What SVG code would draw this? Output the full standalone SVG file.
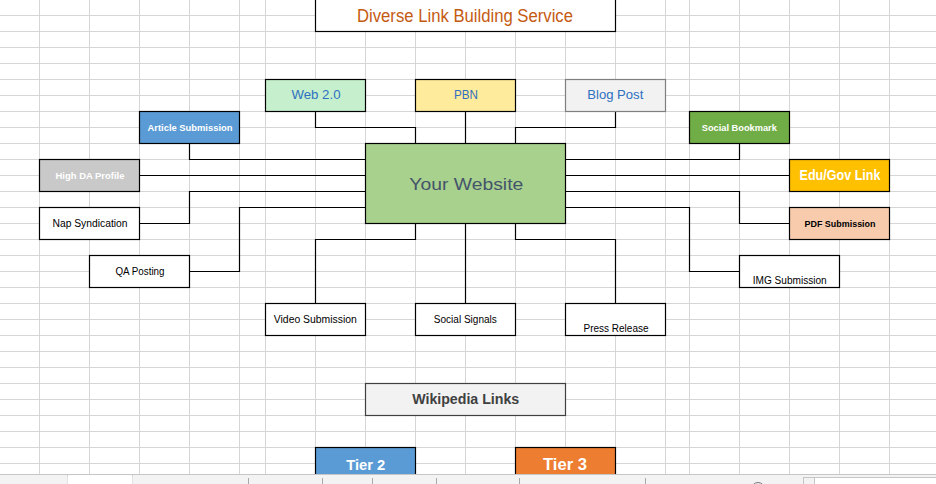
<svg xmlns="http://www.w3.org/2000/svg" width="936" height="484" viewBox="0 0 936 484">
<defs>
<style>
.grid line{stroke:#d6d6d6;stroke-width:1}
.conn path{fill:none;stroke:#000;stroke-width:1.2}
.box{stroke:#000;stroke-width:1.2}
text{font-family:"Liberation Sans",Arial,sans-serif;text-anchor:middle}
.blue{fill:#2e6fc0;font-size:13px}
.wb{fill:#fff;font-weight:bold;font-size:9.5px}
.blk{fill:#000;font-size:10px}
.tab line{stroke:#a8a8a8;stroke-width:1}
</style>
</defs>
<rect x="0" y="0" width="936" height="484" fill="#fff"/>
<g class="grid" id="grid">
<line x1="39.5" y1="0" x2="39.5" y2="484"/><line x1="89.5" y1="0" x2="89.5" y2="484"/><line x1="139.5" y1="0" x2="139.5" y2="484"/><line x1="189.5" y1="0" x2="189.5" y2="484"/><line x1="239.5" y1="0" x2="239.5" y2="484"/><line x1="265.5" y1="0" x2="265.5" y2="484"/><line x1="315.5" y1="0" x2="315.5" y2="484"/><line x1="365.5" y1="0" x2="365.5" y2="484"/><line x1="415.5" y1="0" x2="415.5" y2="484"/><line x1="465.5" y1="0" x2="465.5" y2="484"/><line x1="515.5" y1="0" x2="515.5" y2="484"/><line x1="565.5" y1="0" x2="565.5" y2="484"/><line x1="615.5" y1="0" x2="615.5" y2="484"/><line x1="665.5" y1="0" x2="665.5" y2="484"/><line x1="689.5" y1="0" x2="689.5" y2="484"/><line x1="739.5" y1="0" x2="739.5" y2="484"/><line x1="789.5" y1="0" x2="789.5" y2="484"/><line x1="839.5" y1="0" x2="839.5" y2="484"/><line x1="889.5" y1="0" x2="889.5" y2="484"/>
<line x1="0" y1="15.5" x2="936" y2="15.5"/><line x1="0" y1="31.5" x2="936" y2="31.5"/><line x1="0" y1="47.5" x2="936" y2="47.5"/><line x1="0" y1="63.5" x2="936" y2="63.5"/><line x1="0" y1="79.5" x2="936" y2="79.5"/><line x1="0" y1="95.5" x2="936" y2="95.5"/><line x1="0" y1="111.5" x2="936" y2="111.5"/><line x1="0" y1="127.5" x2="936" y2="127.5"/><line x1="0" y1="143.5" x2="936" y2="143.5"/><line x1="0" y1="159.5" x2="936" y2="159.5"/><line x1="0" y1="175.5" x2="936" y2="175.5"/><line x1="0" y1="191.5" x2="936" y2="191.5"/><line x1="0" y1="207.5" x2="936" y2="207.5"/><line x1="0" y1="223.5" x2="936" y2="223.5"/><line x1="0" y1="239.5" x2="936" y2="239.5"/><line x1="0" y1="255.5" x2="936" y2="255.5"/><line x1="0" y1="271.5" x2="936" y2="271.5"/><line x1="0" y1="287.5" x2="936" y2="287.5"/><line x1="0" y1="303.5" x2="936" y2="303.5"/><line x1="0" y1="319.5" x2="936" y2="319.5"/><line x1="0" y1="335.5" x2="936" y2="335.5"/><line x1="0" y1="351.5" x2="936" y2="351.5"/><line x1="0" y1="367.5" x2="936" y2="367.5"/><line x1="0" y1="383.5" x2="936" y2="383.5"/><line x1="0" y1="399.5" x2="936" y2="399.5"/><line x1="0" y1="415.5" x2="936" y2="415.5"/><line x1="0" y1="431.5" x2="936" y2="431.5"/><line x1="0" y1="447.5" x2="936" y2="447.5"/><line x1="0" y1="463.5" x2="936" y2="463.5"/>
</g>
<g class="conn" id="connectors">
<path d="M315.5,111.5 V127.5 H415.5 V143.5"/>
<path d="M465.5,111.5 V143.5"/>
<path d="M615.5,111.5 V127.5 H515.5 V143.5"/>
<path d="M189.5,143.5 V159.5 H365.5"/>
<path d="M139.5,175.5 H365.5"/>
<path d="M139.5,223.5 H189.5 V191.5 H365.5"/>
<path d="M189.5,271.5 H239.5 V207.5 H365.5"/>
<path d="M739.5,143.5 V159.5 H565.5"/>
<path d="M565.5,175.5 H789.5"/>
<path d="M565.5,191.5 H739.5 V223.5 H789.5"/>
<path d="M565.5,207.5 H689.5 V271.5 H739.5"/>
<path d="M415.5,223.5 V239.5 H315.5 V303.5"/>
<path d="M465.5,223.5 V303.5"/>
<path d="M515.5,223.5 V239.5 H615.5 V303.5"/>
</g>
<g id="title"><rect class="box" x="315.5" y="-1.5" width="300" height="33" fill="#fff"/><text x="465" y="22" font-size="17.5" fill="#c55a11" textLength="216" lengthAdjust="spacingAndGlyphs">Diverse Link Building Service</text></g>
<g id="web20"><rect class="box" x="265.5" y="79.5" width="100" height="32" fill="#c6efce"/><text class="blue" x="316" y="99" textLength="49" lengthAdjust="spacingAndGlyphs">Web 2.0</text></g>
<g id="pbn"><rect class="box" x="415.5" y="79.5" width="100" height="32" fill="#ffeb9c"/><text class="blue" x="466" y="99" textLength="24" lengthAdjust="spacingAndGlyphs">PBN</text></g>
<g id="blogpost"><rect x="565.5" y="79.5" width="100" height="32" fill="#f2f2f2" stroke="#7f7f7f" stroke-width="1.2"/><text class="blue" x="615.3" y="99" textLength="56" lengthAdjust="spacingAndGlyphs">Blog Post</text></g>
<g id="article"><rect class="box" x="139.5" y="111.5" width="100" height="32" fill="#5b9bd5"/><text class="wb" x="190" y="131" textLength="85" lengthAdjust="spacingAndGlyphs">Article Submission</text></g>
<g id="socialbookmark"><rect class="box" x="689.5" y="111.5" width="100" height="32" fill="#70ad47"/><text class="wb" x="739.3" y="131" textLength="75" lengthAdjust="spacingAndGlyphs">Social Bookmark</text></g>
<g id="highda"><rect class="box" x="39.5" y="159.5" width="100" height="32" fill="#c9c9c9"/><text class="wb" x="90" y="179" textLength="69" lengthAdjust="spacingAndGlyphs">High DA Profile</text></g>
<g id="nap"><rect class="box" x="39.5" y="207.5" width="100" height="32" fill="#fff"/><text class="blk" x="90" y="226.5" textLength="75" lengthAdjust="spacingAndGlyphs">Nap Syndication</text></g>
<g id="qa"><rect class="box" x="89.5" y="255.5" width="100" height="32" fill="#fff"/><text class="blk" x="140" y="274.5" textLength="49" lengthAdjust="spacingAndGlyphs">QA Posting</text></g>
<g id="website"><rect class="box" x="365.5" y="143.5" width="200" height="80" fill="#a9d18e"/><text x="466.3" y="189.5" font-size="17" fill="#44546a" textLength="114" lengthAdjust="spacingAndGlyphs">Your Website</text></g>
<g id="edugov"><rect class="box" x="789.5" y="159.5" width="100" height="32" fill="#ffc000"/><text x="840" y="180" font-size="14" font-weight="bold" fill="#fff" textLength="81" lengthAdjust="spacingAndGlyphs">Edu/Gov Link</text></g>
<g id="pdf"><rect class="box" x="789.5" y="207.5" width="100" height="32" fill="#f8cbad"/><text x="840" y="227" font-size="9.5" font-weight="bold" fill="#000" textLength="71" lengthAdjust="spacingAndGlyphs">PDF Submission</text></g>
<g id="img"><rect class="box" x="739.5" y="255.5" width="100" height="32" fill="#fff"/><text class="blk" x="789.7" y="284" textLength="74" lengthAdjust="spacingAndGlyphs">IMG Submission</text></g>
<g id="video"><rect class="box" x="265.5" y="303.5" width="100" height="32" fill="#fff"/><text class="blk" x="315.3" y="323" textLength="83" lengthAdjust="spacingAndGlyphs">Video Submission</text></g>
<g id="signals"><rect class="box" x="415.5" y="303.5" width="100" height="32" fill="#fff"/><text class="blk" x="465.3" y="322.5" textLength="63" lengthAdjust="spacingAndGlyphs">Social Signals</text></g>
<g id="press"><rect class="box" x="565.5" y="303.5" width="100" height="32" fill="#fff"/><text class="blk" x="616" y="331.5" textLength="65" lengthAdjust="spacingAndGlyphs">Press Release</text></g>
<g id="wikipedia"><rect x="365.5" y="383.5" width="200" height="32" fill="#f2f2f2" stroke="#404040" stroke-width="1.2"/><text x="465.7" y="404" font-size="14" font-weight="bold" fill="#404040" textLength="107" lengthAdjust="spacingAndGlyphs">Wikipedia Links</text></g>
<g id="tier2"><rect class="box" x="315.5" y="447.5" width="100" height="40" fill="#5b9bd5"/><text x="365.7" y="469.5" font-size="15.5" font-weight="bold" fill="#fff" textLength="39" lengthAdjust="spacingAndGlyphs">Tier 2</text></g>
<g id="tier3"><rect class="box" x="515.5" y="447.5" width="100" height="40" fill="#ed7d31"/><text x="565" y="469.5" font-size="17" font-weight="bold" fill="#fff" textLength="44" lengthAdjust="spacingAndGlyphs">Tier 3</text></g>
<g class="tab" id="tabbar">
<rect x="0" y="474" width="936" height="10" fill="#f3f3f3"/>
<path d="M0,474.5 H67.5 M132.5,474.5 H936" stroke="#c6c6c6" fill="none"/>
<rect x="67.5" y="474.5" width="65" height="10" fill="#fff" stroke="#c6c6c6"/>
<rect x="67.5" y="476" width="65" height="9" fill="#fff"/>
<line x1="248.5" y1="478" x2="248.5" y2="484"/><line x1="322.5" y1="478" x2="322.5" y2="484"/><line x1="372.5" y1="478" x2="372.5" y2="484"/><line x1="436.5" y1="478" x2="436.5" y2="484"/><line x1="519.5" y1="478" x2="519.5" y2="484"/><line x1="645.5" y1="478" x2="645.5" y2="484"/>
<circle cx="758" cy="489" r="6.5" fill="none" stroke="#777" stroke-width="1"/>
<rect x="803.5" y="477.5" width="140" height="10" fill="#fff" stroke="#c6c6c6"/>
<rect x="803.5" y="477.5" width="11" height="10" fill="#f3f3f3" stroke="#c6c6c6"/>
</g>
</svg>
